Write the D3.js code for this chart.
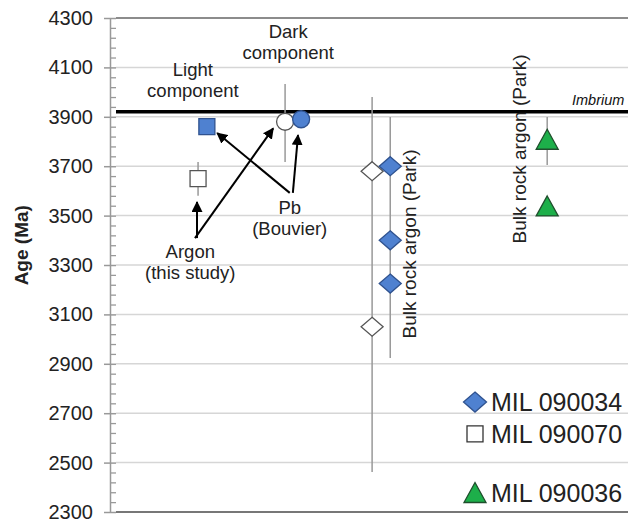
<!DOCTYPE html>
<head>
  <meta charset="utf-8">
  <script src="https://d3js.org/d3.v7.min.js"></script>
  <style>
    body { margin:0; background:#fff; }
    text { font-family: "Liberation Sans", Arial, sans-serif; }
  </style>
</head>
<body>
<script>
  var width = 628, height = 520;

  // y axis ticks (Ma)
  var majorTicks = [2300, 2500, 2700, 2900, 3100, 3300, 3500, 3700, 3900, 4100, 4300];
  var imbriumAge = 3920;

  // samples: x is a column position (0-10), age in Ma
  var mil090034 = [
    {x: 1.87, age: 3860, shape: "square"},
    {x: 3.69, age: 3890, shape: "circle"},
    {x: 5.41, age: 3700, shape: "diamond"},
    {x: 5.41, age: 3400, shape: "diamond"},
    {x: 5.41, age: 3225, shape: "diamond"}
  ];
  var mil090070 = [
    {x: 1.70, age: 3650, shape: "square"},
    {x: 3.38, age: 3880, shape: "circle"},
    {x: 5.06, age: 3680, shape: "diamond"},
    {x: 5.06, age: 3050, shape: "diamond"}
  ];
  var mil090036 = [
    {x: 8.44, age: 3805, shape: "triangle"},
    {x: 8.44, age: 3535, shape: "triangle"}
  ];

  // vertical range bars: x, low, high
  var rangeBars = [
    {x: 1.70, lo: 3580, hi: 3717},
    {x: 3.38, lo: 3717, hi: 4033},
    {x: 5.06, lo: 2462, hi: 3980},
    {x: 5.41, lo: 2923, hi: 3899},
    {x: 8.44, lo: 3705, hi: 3899}
  ];

  // annotation arrows (from -> to)
  var arrows = [
    {x1: 1.68, a1: 3409, x2: 1.68, a2: 3555},
    {x1: 1.64, a1: 3409, x2: 3.15, a2: 3853},
    {x1: 3.47, a1: 3592, x2: 2.07, a2: 3834},
    {x1: 3.53, a1: 3592, x2: 3.63, a2: 3826}
  ];

  var labels = [
    {x: 3.44, age: 4219, lines: ["Dark", "component"]},
    {x: 1.60, age: 4065, lines: ["Light", "component"]},
    {x: 1.55, age: 3328, lines: ["Argon", "(this study)"]},
    {x: 3.47, age: 3507, lines: ["Pb", "(Bouvier)"]}
  ];

  var bulkLabels = [
    {x: 5.91, age: 3385, text: "Bulk rock argon (Park)"},
    {x: 8.03, age: 3770, text: "Bulk rock argon (Park)"}
  ];

  var legendItems = [
    {name: "MIL 090034", shape: "diamond", fill: "#4F81D0", stroke: "#2F528F", age: 2745},
    {name: "MIL 090070", shape: "square", fill: "#fff", stroke: "#333", age: 2616},
    {name: "MIL 090036", shape: "triangle", fill: "#1DAF4A", stroke: "#1F4E2C", age: 2375}
  ];

  var plotLeft = 110, plotTop = 18, plotBottom = 512;

  var xScale = d3.scaleLinear().domain([0, 10]).range([plotLeft, plotLeft + 518]);
  var yScale = d3.scaleLinear().domain([2300, 4300]).range([plotBottom, plotTop]);

  var svg = d3.select("body").append("svg")
    .attr("width", width)
    .attr("height", height);

  // gridlines
  svg.append("g").selectAll("line")
    .data(majorTicks.slice(1, -1))
    .enter().append("line")
    .attr("x1", plotLeft + 6).attr("x2", width)
    .attr("y1", function(d) { return yScale(d); })
    .attr("y2", function(d) { return yScale(d); })
    .attr("stroke", "#d6d6d6")
    .attr("stroke-width", 1.5);

  // frame top and bottom
  svg.append("line")
    .attr("x1", plotLeft + 6).attr("x2", width)
    .attr("y1", yScale(4300)).attr("y2", yScale(4300))
    .attr("stroke", "#666").attr("stroke-width", 1.5);
  svg.append("line")
    .attr("x1", plotLeft + 6).attr("x2", width)
    .attr("y1", yScale(2300)).attr("y2", yScale(2300))
    .attr("stroke", "#777").attr("stroke-width", 2);

  // minor ticks
  var minorTicks = d3.range(2300, 4301, 40).filter(function(d) { return (d - 2300) % 200 !== 0; });
  var minorAxis = d3.axisLeft(yScale).tickValues(minorTicks).tickSize(-6).tickFormat("");
  svg.append("g")
    .attr("transform", "translate(" + plotLeft + ",0)")
    .call(minorAxis)
    .call(function(g) {
      g.select(".domain").remove();
      g.selectAll("line").attr("stroke", "#999").attr("stroke-width", 1.3);
    });

  // major axis
  var majorAxis = d3.axisLeft(yScale).tickValues(majorTicks).tickFormat(d3.format("d"))
    .tickSizeInner(6).tickSizeOuter(0).tickPadding(11);
  svg.append("g")
    .attr("transform", "translate(" + plotLeft + ",0)")
    .call(majorAxis)
    .call(function(g) {
      g.select(".domain").attr("stroke", "#999").attr("stroke-width", 1.5);
      g.selectAll(".tick line").attr("x2", -6).attr("x1", 6)
        .attr("stroke", "#999").attr("stroke-width", 1.5);
      g.selectAll(".tick text")
        .attr("font-size", "20px")
        .attr("fill", "#222")
        .attr("font-family", "Liberation Sans, Arial, sans-serif");
    });

  svg.append("text")
    .attr("transform", "translate(28," + yScale(3380) + ") rotate(-90)")
    .attr("text-anchor", "middle")
    .attr("font-size", "19px")
    .attr("font-weight", "bold")
    .attr("fill", "#222")
    .text("Age (Ma)");

  // Imbrium line
  svg.append("line")
    .attr("x1", plotLeft + 6).attr("x2", width)
    .attr("y1", yScale(imbriumAge)).attr("y2", yScale(imbriumAge))
    .attr("stroke", "#000").attr("stroke-width", 3.5);
  svg.append("text")
    .attr("x", 572).attr("y", yScale(imbriumAge) - 7)
    .attr("font-size", "14.5px")
    .attr("font-style", "italic")
    .attr("fill", "#111")
    .text("Imbrium");

  // range bars
  svg.append("g").selectAll("line")
    .data(rangeBars)
    .enter().append("line")
    .attr("x1", function(d) { return xScale(d.x); })
    .attr("x2", function(d) { return xScale(d.x); })
    .attr("y1", function(d) { return yScale(d.lo); })
    .attr("y2", function(d) { return yScale(d.hi); })
    .attr("stroke", "#999")
    .attr("stroke-width", 1.5);

  // rotated labels
  svg.append("g").selectAll("text")
    .data(bulkLabels)
    .enter().append("text")
    .attr("transform", function(d) {
      return "translate(" + xScale(d.x) + "," + yScale(d.age) + ") rotate(-90)";
    })
    .attr("text-anchor", "middle")
    .attr("font-size", "19px")
    .attr("fill", "#222")
    .text(function(d) { return d.text; });

  // marker path generator
  function shapePath(shape, s) {
    var h = s / 2;
    if (shape === "square") return "M" + (-h) + "," + (-h) + "h" + s + "v" + s + "h" + (-s) + "Z";
    if (shape === "diamond") return "M0," + (-h) + "L" + (h + 1.5) + ",0L0," + h + "L" + (-h - 1.5) + ",0Z";
    if (shape === "triangle") return "M0," + (-h - 1) + "L" + (h + 1) + "," + (h - 1) + "L" + (-h - 1) + "," + (h - 1) + "Z";
    return d3.arc()({innerRadius: 0, outerRadius: h, startAngle: 0, endAngle: 2 * Math.PI});
  }
  var sizes = {square: 16, circle: 17, diamond: 19, triangle: 20};

  function drawSeries(data, fill, stroke) {
    svg.append("g").selectAll("path")
      .data(data)
      .enter().append("path")
      .attr("transform", function(d) { return "translate(" + xScale(d.x) + "," + yScale(d.age) + ")"; })
      .attr("d", function(d) { return shapePath(d.shape, sizes[d.shape]); })
      .attr("fill", fill)
      .attr("stroke", stroke)
      .attr("stroke-width", 1.3);
  }
  drawSeries(mil090070, "#fff", "#555");
  drawSeries(mil090034, "#4F81D0", "#2F528F");
  drawSeries(mil090036, "#1DAF4A", "#1F4E2C");

  // arrows
  svg.append("defs").append("marker")
    .attr("id", "head")
    .attr("viewBox", "0 0 10 10")
    .attr("refX", 9).attr("refY", 5)
    .attr("markerWidth", 5.5).attr("markerHeight", 5.5)
    .attr("markerUnits", "strokeWidth")
    .attr("orient", "auto")
    .append("path")
    .attr("d", "M0,0L10,5L0,10Z")
    .attr("fill", "#000");

  svg.append("g").selectAll("line")
    .data(arrows)
    .enter().append("line")
    .attr("x1", function(d) { return xScale(d.x1); })
    .attr("y1", function(d) { return yScale(d.a1); })
    .attr("x2", function(d) { return xScale(d.x2); })
    .attr("y2", function(d) { return yScale(d.a2); })
    .attr("stroke", "#000")
    .attr("stroke-width", 2)
    .attr("marker-end", "url(#head)");

  // text labels
  labels.forEach(function(l) {
    var t = svg.append("text")
      .attr("text-anchor", "middle")
      .attr("font-size", "18.5px")
      .attr("fill", "#222");
    l.lines.forEach(function(line, i) {
      t.append("tspan")
        .attr("x", xScale(l.x))
        .attr("y", yScale(l.age) + i * 21)
        .text(line);
    });
  });

  // legend
  var legend = svg.append("g").selectAll("g")
    .data(legendItems)
    .enter().append("g")
    .attr("transform", function(d) { return "translate(" + 475 + "," + yScale(d.age) + ")"; });
  legend.append("path")
    .attr("d", function(d) { return shapePath(d.shape, d.shape === "square" ? 16 : 20); })
    .attr("fill", function(d) { return d.fill; })
    .attr("stroke", function(d) { return d.stroke; })
    .attr("stroke-width", 1.3);
  legend.append("text")
    .attr("x", 16)
    .attr("y", 9)
    .attr("font-size", "25px")
    .attr("fill", "#222")
    .text(function(d) { return d.name; });
</script>
</body>
